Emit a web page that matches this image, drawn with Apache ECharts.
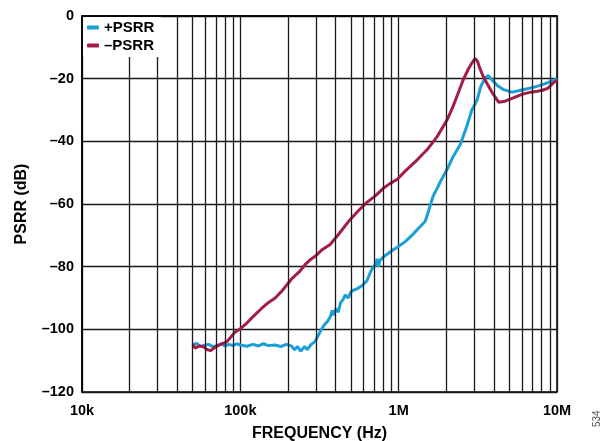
<!DOCTYPE html>
<html>
<head>
<meta charset="utf-8">
<script src="https://cdn.jsdelivr.net/npm/echarts@6/dist/echarts.min.js"></script>
<style>
  html, body { margin: 0; padding: 0; background: #fff; }
  #chart { width: 606px; height: 441px; }
</style>
</head>
<body>
<div id="chart"></div>
<script>
// +PSRR (blue), frequency in Hz / dB
var plusFreq = [50e3, 53e3, 56e3, 60e3, 63e3, 67e3, 72e3, 76e3, 80e3, 85e3, 90e3, 95e3, 100e3, 110e3, 120e3, 130e3, 140e3, 150e3, 165e3, 180e3, 195e3, 210e3, 220e3, 230e3, 240e3, 255e3, 265e3, 280e3, 295e3, 310e3, 325e3, 340e3, 355e3, 370e3, 380e3, 390e3, 400e3, 415e3, 430e3, 445e3, 460e3, 480e3, 500e3, 520e3, 550e3, 590e3, 630e3, 660e3, 690e3, 720e3, 730e3, 745e3, 760e3, 820e3, 900e3, 980e3, 1.1e6, 1.23e6, 1.35e6, 1.47e6, 1.55e6, 1.65e6, 1.75e6, 1.85e6, 2.02e6, 2.2e6, 2.45e6, 2.7e6, 2.9e6, 3.13e6, 3.3e6, 3.5e6, 3.67e6, 3.9e6, 4.2e6, 4.6e6, 5.2e6, 5.8e6, 6.5e6, 7.2e6, 8e6, 9e6, 10e6];
var plusDb = [-105, -104.5, -105.5, -105, -104.8, -105.5, -105.2, -104.5, -105.3, -104.8, -105.2, -104.6, -105, -105.4, -104.8, -105.3, -104.6, -105.2, -105, -105.5, -104.8, -105.3, -106.5, -105.5, -107, -105.5, -106.5, -104.8, -104, -102, -100, -98.5, -97.5, -96, -94, -95.5, -93.5, -94.5, -91.5, -90.5, -89, -90, -88, -87.5, -87, -86, -84.5, -82, -80, -79.5, -77.5, -80, -78, -76.5, -75, -73.8, -72, -69.7, -67.5, -65.6, -62, -57.5, -55, -52.5, -49, -45, -41, -35, -30, -26.8, -22.5, -20, -19, -20.5, -22.2, -23.5, -24.3, -23.8, -23.2, -22.7, -22, -21, -20];

// –PSRR (red)
var minusFreq = [50e3, 52e3, 55e3, 58e3, 62e3, 65e3, 68e3, 72e3, 77e3, 82e3, 87e3, 92e3, 100e3, 110e3, 120e3, 135e3, 150e3, 166e3, 185e3, 210e3, 238e3, 260e3, 276e3, 300e3, 330e3, 369e3, 420e3, 493e3, 560e3, 630e3, 709e3, 800e3, 880e3, 977e3, 1.1e6, 1.31e6, 1.51e6, 1.75e6, 2.02e6, 2.2e6, 2.4e6, 2.55e6, 2.75e6, 2.9e6, 3.04e6, 3.15e6, 3.24e6, 3.4e6, 3.6e6, 3.9e6, 4.28e6, 4.7e6, 5.25e6, 6e6, 6.8e6, 7.5e6, 8.1e6, 8.8e6, 9.4e6, 10e6];
var minusDb = [-104.8, -106, -105.3, -105.5, -106.5, -106.8, -106, -105.2, -104.6, -104, -102.5, -101, -99.8, -98, -96, -93.5, -91.5, -90, -87.5, -84, -81.4, -79, -77.8, -76.5, -74.5, -72.9, -69.5, -65, -62, -59.5, -57.5, -55, -53.5, -52.2, -49.5, -45.9, -42.7, -38.5, -33.2, -29, -24, -20.5, -17, -15, -13.5, -14.5, -16.4, -19, -21.4, -24.5, -27.5, -27.2, -26.2, -25, -24.3, -24, -23.7, -23, -21.5, -20.5];

var seriesNames = ['+PSRR', '\u2013PSRR'];
var xTickLabels = { 10000: '10k', 100000: '100k', 1000000: '1M', 10000000: '10M' };
// minor log grid lines (2..9 of each decade)
var minorFreqs = [2e4, 3e4, 4e4, 5e4, 6e4, 7e4, 8e4, 9e4,
                  2e5, 3e5, 4e5, 5e5, 6e5, 7e5, 8e5, 9e5,
                  2e6, 3e6, 4e6, 5e6, 6e6, 7e6, 8e6, 9e6];

function zip(a, b) {
  return a.map(function (v, i) { return [v, b[i]]; });
}

var font = 'Liberation Sans, Arial, sans-serif';
var gridColor = '#1a1a1a';

var chart = echarts.init(document.getElementById('chart'));
chart.setOption({
  animation: false,
  backgroundColor: '#fff',
  grid: {
    left: 82, right: 49, top: 16, bottom: 49,
    outerBoundsMode: 'none', containLabel: false,
    show: true, borderColor: '#000', borderWidth: 1.5, backgroundColor: 'transparent'
  },
  legend: {
    orient: 'vertical',
    left: 83, top: 17,
    itemWidth: 12, itemHeight: 4, itemGap: 3,
    icon: 'roundRect',
    padding: [3, 14, 10, 4],
    z: 60,
    textStyle: { fontFamily: font, fontWeight: 'bold', fontSize: 15, color: '#000' },
    data: seriesNames
  },
  xAxis: {
    type: 'log', logBase: 10, min: 1e4, max: 1e7,
    name: 'FREQUENCY (Hz)', nameLocation: 'middle', nameGap: 34,
    nameTextStyle: { fontFamily: font, fontWeight: 'bold', fontSize: 16, color: '#000' },
    axisLine: { show: true, lineStyle: { color: '#000', width: 1.5 } },
    axisTick: { show: false },
    axisLabel: {
      fontFamily: font, fontWeight: 'bold', fontSize: 14.5, color: '#000', margin: 11,
      formatter: function (v) { return xTickLabels[Math.round(v)] || ''; }
    },
    splitLine: { show: true, lineStyle: { color: gridColor, width: 1.3 } }
  },
  yAxis: {
    type: 'value', min: -120, max: 0, interval: 20,
    name: 'PSRR (dB)', nameLocation: 'middle', nameGap: 52,
    nameTextStyle: { fontFamily: font, fontWeight: 'bold', fontSize: 16, color: '#000' },
    axisLine: { show: true, lineStyle: { color: '#000', width: 1.5 } },
    axisTick: { show: false },
    axisLabel: {
      fontFamily: font, fontWeight: 'bold', fontSize: 14.5, color: '#000', margin: 8,
      formatter: function (v) { return v < 0 ? '\u2013' + (-v) : String(v); }
    },
    splitLine: { show: true, lineStyle: { color: gridColor, width: 1.3 } }
  },
  series: [
    {
      name: seriesNames[0], type: 'line', data: zip(plusFreq, plusDb),
      showSymbol: false, color: '#1a9fd6',
      lineStyle: { width: 3, color: '#1a9fd6' },
      markLine: {
        silent: true, symbol: 'none', label: { show: false },
        lineStyle: { color: gridColor, width: 1.3, type: 'solid' },
        data: minorFreqs.map(function (f) { return { xAxis: f }; })
      },
      z: 3
    },
    {
      name: seriesNames[1], type: 'line', data: zip(minusFreq, minusDb),
      showSymbol: false, color: '#a31c4a',
      lineStyle: { width: 3, color: '#a31c4a' },
      z: 3
    }
  ],
  graphic: [
    {
      // white box behind the legend, hiding the grid lines there
      type: 'rect', z: 50, silent: true,
      shape: { x: 83, y: 17, width: 78, height: 40 },
      style: { fill: '#fff' }
    },
    {
      type: 'text', x: 592, y: 427, rotation: Math.PI / 2,
      style: { text: '534', fontFamily: font, fontSize: 10, fill: '#555' }
    }
  ]
});
</script>
</body>
</html>
